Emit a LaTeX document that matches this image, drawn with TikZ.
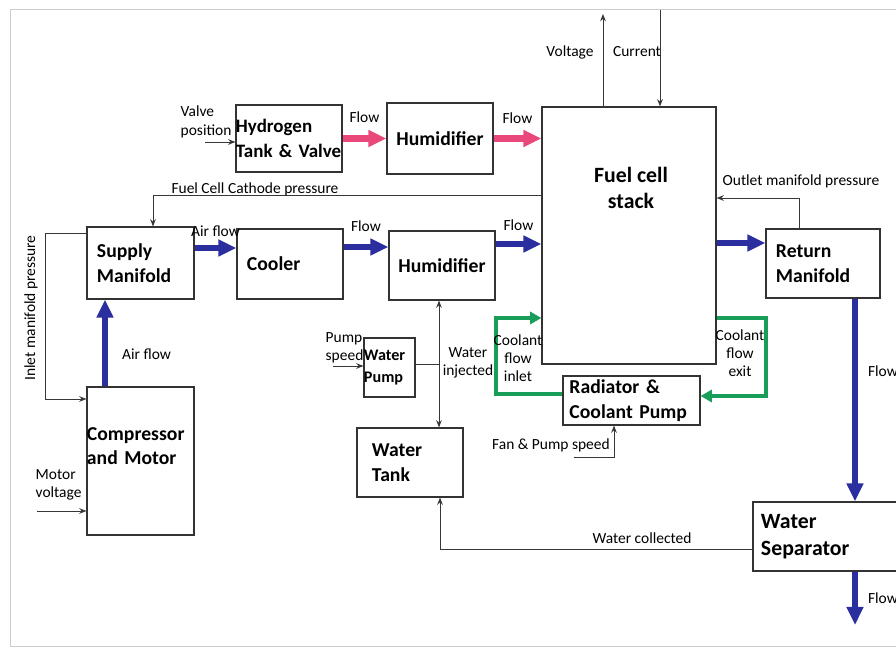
\documentclass[tikz,border=0pt]{standalone}
\usepackage{fontspec}
\setmainfont{Carlito}
\usetikzlibrary{arrows.meta}

\definecolor{vodik}{RGB}{233,72,122}
\definecolor{vzduch}{RGB}{42,46,158}
\definecolor{chlad}{RGB}{24,158,88}
\definecolor{signal}{RGB}{55,55,55}
\definecolor{ramec}{RGB}{205,205,205}

\tikzset{
    blok/.style={draw=black!80, line width=0.8pt, inner sep=0pt, align=left,
        font=\bfseries\fontsize{14}{17.5}\selectfont},
    popis/.style={font=\fontsize{11}{13}\selectfont, inner sep=1pt},
    sig/.style={draw=signal, line width=0.7pt, -{Stealth[length=1.8mm,width=1.4mm]}},
    tokH/.style={draw=vodik, line width=5pt, -{Triangle[length=4.5mm,width=4mm]}},
    tokA/.style={draw=vzduch, line width=4.5pt, -{Triangle[length=4.5mm,width=4mm]}},
    tokC/.style={draw=chlad, line width=3pt, -{Triangle[length=2.8mm,width=3mm]}},
}

\begin{document}
\begin{tikzpicture}[x=0.025cm, y=-0.025cm]
        \useasboundingbox (0,0) rectangle (896,648);
        \clip (0,0) rectangle (896,648);
        \draw[ramec] (10,9) rectangle (930,646);

        % bloky
        \node[blok, minimum width=2.65cm, minimum height=1.675cm, text width=2.65cm,
            font=\bfseries\fontsize{13.5}{17.5}\selectfont] (nadrz) at (289,138.5) {Hydrogen\\Tank \& Valve};
        \node[blok, minimum width=2.65cm, minimum height=1.775cm, text width=2.65cm, align=center] (zvlh1) at (440,138.5) {Humidifier};
        \node[blok, minimum width=4.35cm, minimum height=6.425cm] (clanek) at (629,235.5) {};
        \node[font=\bfseries\fontsize{15.5}{19}\selectfont, align=center] (clanektxt) at (631,188) {Fuel cell\\stack};
        \node[blok, minimum width=2.675cm, minimum height=1.8cm, text width=2.175cm] (privod) at (140.5,263) {Supply\\Manifold};
        \node[blok, minimum width=2.65cm, minimum height=1.75cm, text width=2.15cm] (chladic) at (290,264) {Cooler};
        \node[blok, minimum width=2.65cm, minimum height=1.725cm, text width=2.65cm, align=center] (zvlh2) at (442,265.5) {Humidifier};
        \node[blok, minimum width=2.85cm, minimum height=1.725cm, text width=2.35cm] (vratny) at (823,263.5) {Return\\Manifold};
        \node[blok, minimum width=2.675cm, minimum height=3.7cm, text width=2.675cm, text depth=1.37cm] (kompresor) at (140.5,461) {Compressor\\and Motor};
        \node[blok, minimum width=1.275cm, minimum height=1.475cm, text width=1.275cm,
            font=\bfseries\fontsize{11.5}{15}\selectfont] (cerpadlo) at (389.5,367.5) {Water\\Pump};
        \node[blok, minimum width=2.65cm, minimum height=1.725cm, text width=1.9cm] (nadrzvody) at (410,462.5) {Water\\Tank};
        \node[blok, minimum width=3.425cm, minimum height=1.225cm, text width=3.1cm] (radiator) at (631.5,400.5) {Radiator \&\\Coolant Pump};
        \node[blok, minimum width=3.8cm, minimum height=1.725cm, text width=3.4cm,
            font=\bfseries\fontsize{15.5}{19}\selectfont] (odlucovac) at (829,536.5) {Water\\Separator};

        % vodík
        \draw[tokH] (nadrz) -- node[popis, above=8pt] {Flow} (zvlh1);
        \draw[tokH] (zvlh1) -- node[popis, above=7pt] {Flow} (zvlh1 -| clanek.west);

        % vzduch
        \coordinate (a1) at (0,248);
        \coordinate (a2) at (0,247);
        \coordinate (a3) at (0,244);
        \coordinate (a4) at (0,243);
        \draw[tokA] (a1 -| privod.east) -- node[popis, above=5pt] {Air flow} (a1 -| chladic.west);
        \draw[tokA] (a2 -| chladic.east) -- node[popis, above=8pt] {Flow} (a2 -| zvlh2.west);
        \draw[tokA] (a3 -| zvlh2.east) -- node[popis, above=6pt] {Flow} (a3 -| clanek.west);
        \draw[tokA] (a4 -| clanek.east) -- (a4 -| vratny.west);

        \coordinate (k) at (105,0);
        \draw[tokA] (k |- kompresor.north) -- node[popis, pos=0.375, right=9pt] {Air flow} (k |- privod.south);

        \coordinate (r) at (855,0);
        \coordinate (vystup) at (855,625);
        \draw[tokA] (r |- vratny.south) -- node[popis, pos=0.36, right=6pt] {Flow} (r |- odlucovac.north);
        \draw[tokA] (vystup |- odlucovac.south) -- node[popis, right=6pt] {Flow} (vystup);

        % chlazení
        \coordinate (ci) at (496,394);
        \coordinate (ch) at (496,318);
        \coordinate (ce) at (766,318);
        \coordinate (cd) at (766,396);
        \draw[tokC] (ci -| radiator.west) -- (ci) -- (ch) -- (ch -| clanek.west);
        \draw[tokC] (ce -| clanek.east) -- (ce) -- (cd) -- (cd -| radiator.east);
        \node[popis, align=center] (vstuptxt) at (518,358) {Coolant\\flow\\inlet};
        \node[popis, align=center] (vystuptxt) at (740,353) {Coolant\\flow\\exit};

        % signály
        \node[popis, align=left, anchor=west] (ventil) at (179,122) {Valve\\position};
        \coordinate (v0) at (205,142);
        \draw[sig] (v0) -- (v0 -| nadrz.west);

        \coordinate (napeti) at (603,14);
        \coordinate (proud) at (660,10);
        \draw[sig] (napeti |- clanek.north) -- (napeti);
        \draw[sig] (proud) -- (proud |- clanek.north);
        \node[popis] (napetitxt) at (570,52) {Voltage};
        \node[popis] (proudtxt) at (637,52) {Current};

        \coordinate (kat) at (153,195);
        \draw[sig] (kat -| clanek.west) -- (kat) -- (kat |- privod.north);
        \node[popis] (kattxt) at (255,189) {Fuel Cell Cathode pressure};

        \coordinate (vyst) at (799,198);
        \draw[sig] (vyst |- vratny.north) -- (vyst) -- (vyst -| clanek.east);
        \node[popis] (vysttxt) at (801,181) {Outlet manifold pressure};

        \coordinate (s1) at (45,233);
        \coordinate (s2) at (45,399);
        \draw[sig] (s1 -| privod.west) -- (s1) -- (s2) -- (s2 -| kompresor.west);
        \node[popis, rotate=90] (vstuptlak) at (31,308) {Inlet manifold pressure};

        \node[popis, align=left, anchor=west] (motortxt) at (34,485) {Motor\\voltage};
        \coordinate (m0) at (37,511);
        \draw[sig] (m0) -- (m0 -| kompresor.west);

        \node[popis, align=left, anchor=west] (pumptxt) at (324,348) {Pump\\speed};
        \coordinate (p0) at (333,366);
        \draw[sig] (p0) -- (p0 -| cerpadlo.west);

        \coordinate (vs) at (439,364);
        \draw[sig, -] (vs -| cerpadlo.east) -- (vs);
        \draw[sig, {Stealth[length=1.8mm,width=1.4mm]}-{Stealth[length=1.8mm,width=1.4mm]}] (vs |- zvlh2.south) -- (vs |- nadrzvody.north);
        \node[popis, align=center] (vstrik) at (468,363) {Water\\injected};

        \coordinate (f0) at (574,457);
        \coordinate (f1) at (614,457);
        \draw[sig] (f0) -- (f1) -- (f1 |- radiator.south);
        \node[popis] (ventilator) at (551,445) {Fan \& Pump speed};

        \coordinate (w0) at (440,549);
        \draw[sig] (w0 -| odlucovac.west) -- (w0) -- (w0 |- nadrzvody.south);
        \node[popis] (sbervody) at (642,538) {Water collected};

    \end{tikzpicture}
\end{document}
